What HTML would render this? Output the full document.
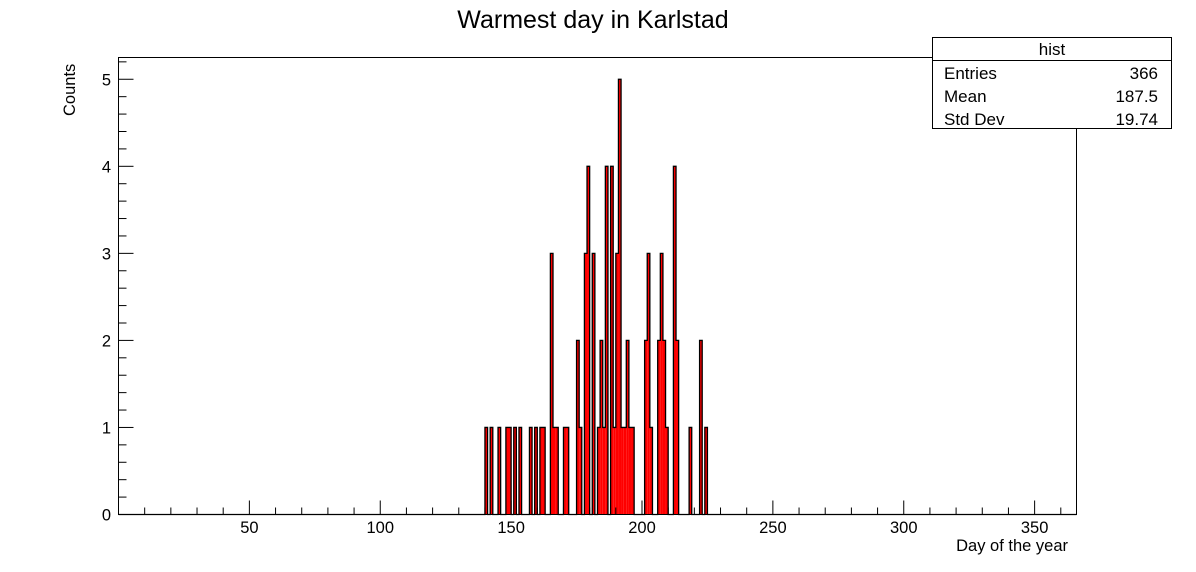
<!DOCTYPE html>
<html><head><meta charset="utf-8"><style>
body{margin:0;background:#fff;}
svg{display:block;font-family:"Liberation Sans",sans-serif;}
</style></head><body>
<svg id="c" width="1196" height="572">
<rect width="1196" height="572" fill="#fff"/>
<text x="593" y="28" font-size="25" text-anchor="middle">Warmest day in Karlstad</text>
<g id="bars"></g>
<g id="axes"></g>
<text x="1068" y="551" font-size="16.5" text-anchor="end">Day of the year</text>
<text transform="translate(75,116) rotate(-90)" font-size="16.5">Counts</text>
<g>
<rect x="932.5" y="37.5" width="239" height="91" fill="#fff" stroke="#000"/>
<line x1="932.5" y1="60.5" x2="1171.5" y2="60.5" stroke="#000"/>
<text x="1052" y="55" font-size="17" text-anchor="middle">hist</text>
<text x="944" y="79" font-size="17">Entries</text><text x="1158" y="79" font-size="17" text-anchor="end">366</text>
<text x="944" y="102" font-size="17">Mean</text><text x="1158" y="102" font-size="17" text-anchor="end">187.5</text>
<text x="944" y="125" font-size="17">Std Dev</text><text x="1158" y="125" font-size="17" text-anchor="end">19.74</text>
</g>
</svg>
<script>
const days=[140,142,145,148,149,151,153,157,159,161,162,165,166,167,170,171,175,176,178,179,181,183,184,185,186,188,189,190,191,192,193,194,195,196,201,202,203,206,207,208,209,212,213,218,222,224];
const counts=[1,1,1,1,1,1,1,1,1,1,1,3,1,1,1,1,2,1,3,4,3,1,2,1,4,4,1,3,5,1,1,2,1,1,2,3,1,2,3,2,1,4,2,1,2,1];
const xTicks=[50,100,150,200,250,300,350];
const yTicks=[0,1,2,3,4,5];
const X0=118.5,X1=1076.5,Y0=514.5,Y1=57.5,XMIN=0,XMAX=366,YMAX=5.25;
const sx=v=>X0+(v-XMIN)/(XMAX-XMIN)*(X1-X0);
const sy=v=>Y0-v/YMAX*(Y0-Y1);
const NS='http://www.w3.org/2000/svg';
function mk(t,a,p){const e=document.createElementNS(NS,t);for(const k in a)e.setAttribute(k,a[k]);p.appendChild(e);return e;}
const bars=document.getElementById('bars'),axes=document.getElementById('axes');
const hmap={};
days.forEach((d,i)=>{
 hmap[d]=counts[i];
 if(!counts[i])return;
 const r=mk('rect',{x:sx(d),y:sy(counts[i]),width:sx(d+1)-sx(d),height:sy(0)-sy(counts[i]),fill:'#ff0000'},bars);
 
 
});
// step outline
let dpath='M'+sx(0)+','+sy(0);let prev=0;
for(let d=0;d<XMAX;d++){const h=hmap[d]||0;if(h!==prev){dpath+=' L'+sx(d)+','+sy(prev)+' L'+sx(d)+','+sy(h);prev=h;}}
dpath+=' L'+sx(XMAX)+','+sy(prev);
const ol=mk('path',{d:dpath,fill:'none',stroke:'#000','stroke-width':1.3},bars);


mk('rect',{x:X0,y:Y1,width:X1-X0,height:Y0-Y1,fill:'none',stroke:'#000'},axes);
for(let v=10;v<XMAX;v+=10){const big=v%50===0;mk('line',{x1:sx(v),x2:sx(v),y1:Y0,y2:Y0-(big?14:7),stroke:'#000'},axes);}
xTicks.forEach(v=>{const t=mk('text',{x:sx(v),y:533,'font-size':16.5,'text-anchor':'middle'},axes);t.textContent=v;
 
 });
for(let v=0;v<=YMAX+1e-9;v=Math.round((v+0.2)*10)/10){const big=Math.abs(v-Math.round(v))<1e-6;mk('line',{x1:X0,x2:X0+(big?15:8),y1:sy(v),y2:sy(v),stroke:'#000'},axes);}
yTicks.forEach(v=>{const t=mk('text',{x:111,y:sy(v)+6,'font-size':16.5,'text-anchor':'end'},axes);t.textContent=v;
 
 });
</script>
</body></html>
